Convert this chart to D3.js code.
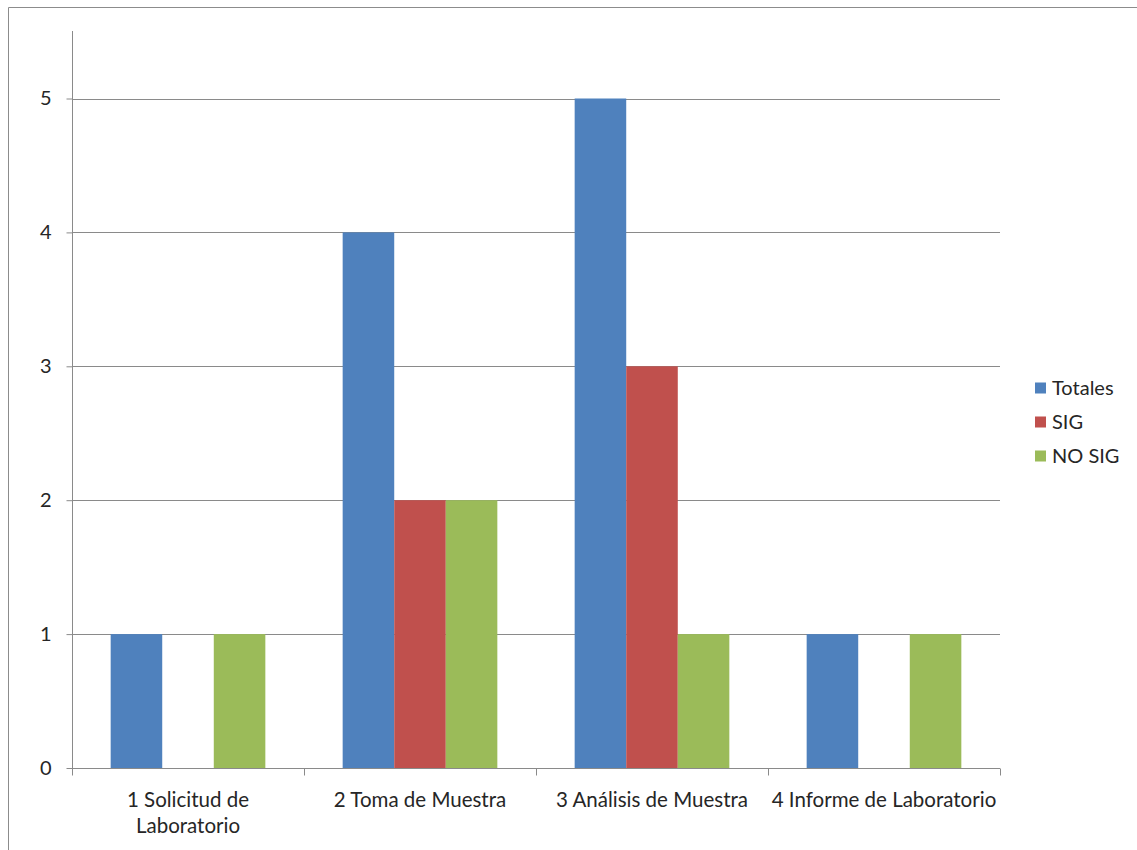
<!DOCTYPE html>
<html>
<head>
<meta charset="utf-8">
<script src="https://cdn.jsdelivr.net/npm/d3@7"></script>
<style>
html,body{margin:0;padding:0;background:#fff;}
svg{display:block;}
text{font-family:Lato,"Open Sans",sans-serif;fill:#262626;}
</style>
</head>
<body>
<svg id="chart" width="1137" height="850"></svg>
<script>
const categories = [["1 Solicitud de","Laboratorio"],["2 Toma de Muestra"],["3 Análisis de Muestra"],["4 Informe de Laboratorio"]];
const seriesNames = ["Totales","SIG","NO SIG"];
const seriesColors = ["#4F81BD","#C0504D","#9BBB59"];
const totales = [1,4,5,1];
const sig = [0,2,3,0];
const noSig = [1,2,1,1];
const yTicks = [0,1,2,3,4,5];

(function(){
const values = [totales, sig, noSig];
const svg = d3.select("#chart");

// outer frame
svg.append("path").attr("d","M8.5,850 L8.5,7.5 L1137,7.5").attr("fill","none").attr("stroke","#8c8c8c").attr("stroke-width",1);

const pLeft = 72, pRight = 1000, pTop = 31, pBottom = 768;
const y = d3.scaleLinear().domain([0,5]).range([pBottom, 98.5]);
const x0 = d3.scaleBand().domain(d3.range(categories.length)).range([pLeft,pRight]).paddingInner(0.3333).paddingOuter(0.16667);
const x1 = d3.scaleBand().domain(d3.range(seriesNames.length)).range([0,x0.bandwidth()]);
const xOuter = d3.scaleBand().domain(d3.range(categories.length)).range([pLeft,pRight]);

// gridlines
svg.append("g").selectAll("line").data(yTicks.filter(d=>d>0)).join("line")
  .attr("x1",pLeft).attr("x2",pRight)
  .attr("y1",d=>Math.round(y(d))+0.5).attr("y2",d=>Math.round(y(d))+0.5)
  .attr("stroke","#8a8a8a").attr("stroke-width",1);

// bars
const groups = svg.append("g").selectAll("g").data(d3.range(categories.length)).join("g")
  .attr("transform",i=>`translate(${x0(i)},0)`);
groups.selectAll("rect").data(i=>values.map((s,j)=>({j, v:s[i]})).filter(d=>d.v>0)).join("rect")
  .attr("x",d=>x1(d.j)).attr("width",x1.bandwidth())
  .attr("y",d=>y(d.v)).attr("height",d=>y(0)-y(d.v))
  .attr("fill",d=>seriesColors[d.j]);

// y axis
const yAxis = d3.axisLeft(y).tickValues(yTicks).tickSize(6).tickPadding(15).tickFormat(d3.format("d"));
const gy = svg.append("g").attr("transform",`translate(${pLeft+0.5},0)`).call(yAxis);
gy.select(".domain").remove();
gy.append("line").attr("x1",0).attr("x2",0).attr("y1",pTop).attr("y2",pBottom).attr("stroke","#8a8a8a");
gy.selectAll(".tick line").attr("stroke","#8a8a8a");
gy.selectAll(".tick text").style("font-size","20px").attr("fill","#262626").style("font-family","Lato,'Open Sans',sans-serif");

// x axis
const gx = svg.append("g").attr("transform",`translate(0,${pBottom+0.5})`);
gx.append("line").attr("x1",pLeft).attr("x2",pRight).attr("stroke","#8a8a8a");
const xt = d3.range(categories.length+1).map(i=> i<categories.length ? xOuter(i) : pRight);
gx.selectAll("line.t").data(xt).join("line").attr("class","t")
  .attr("x1",d=>Math.round(d)+0.5).attr("x2",d=>Math.round(d)+0.5).attr("y1",0).attr("y2",7).attr("stroke","#8a8a8a");
gx.selectAll("text").data(categories).join("text")
  .attr("text-anchor","middle")
  .attr("x",(d,i)=>xOuter(i)+xOuter.bandwidth()/2)
  .attr("y",38)
  .style("font-size","20.5px")
  .selectAll("tspan").data(d=>d).join("tspan")
  .attr("x",function(){return d3.select(this.parentNode).attr("x");})
  .attr("dy",(d,k)=>k===0?0:26)
  .text(d=>d);

// legend
const lg = svg.append("g").attr("transform","translate(1035,388)");
const items = lg.selectAll("g").data(seriesNames).join("g").attr("transform",(d,i)=>`translate(0,${i*34})`);
items.append("rect").attr("x",0).attr("y",-5.5).attr("width",11).attr("height",11).attr("fill",(d,i)=>seriesColors[i]);
items.append("text").attr("x",17).attr("y",7).style("font-size","20px").text(d=>d);
})();
</script>
</body>
</html>
